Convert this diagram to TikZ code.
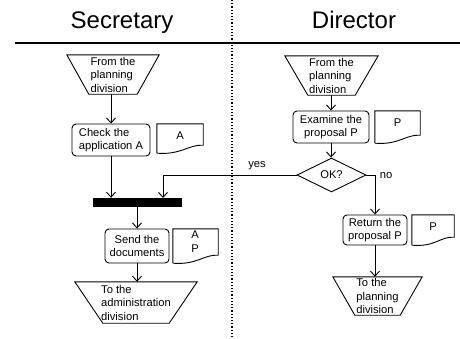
\documentclass[tikz,border=0pt]{standalone}
\usepackage{fontspec}
\setmainfont{Liberation Sans}
\usetikzlibrary{arrows.meta,shapes.geometric,calc}
\begin{document}
\begin{tikzpicture}[x=1pt,y=-1pt,
  every node/.style={font=\fontsize{11.2}{13.5}\selectfont},
  arr/.style={draw,line width=0.9pt,-{Straight Barb[length=5pt,width=9pt,line width=0.9pt]}},
  conn/.style={draw,line width=0.9pt},
  procbox/.style={draw,line width=0.9pt,rounded corners=4pt,inner sep=0pt,align=center},
  trapbox/.style={inner sep=0pt,align=left},
  docbox/.style={inner sep=0pt,align=center},
  header/.style={font=\fontsize{24}{28}\selectfont,anchor=base},
  lbl/.style={font=\fontsize{11.2}{13.5}\selectfont,inner sep=1pt}
]
\useasboundingbox (0,0) rectangle (460,338);
\fill[white] (0,0) rectangle (460,338);

% headers and lanes
\node[header] (hsec) at (122,28) {Secretary};
\node[header] (hdir) at (354,28) {Director};
\draw[line width=1.6pt] (15,43) -- (460,43);
\draw[line width=1.2pt,dotted] (232,0) -- (232,338);

% trapezoid helper: draw after node
\newcommand{\trapdraw}[2]{%
  \draw[line width=0.9pt] (#1.north west) -- (#1.north east) -- ($(#1.south east)+(-#2,0)$) -- ($(#1.south west)+(#2,0)$) -- cycle;}
\newcommand{\docdraw}[1]{%
  \draw[line width=0.9pt] ($(#1.south west)$) -- (#1.north west) -- (#1.north east) -- ($(#1.south east)+(0,-8)$)
    .. controls ($(#1.south east)+(-14,-9)$) and ($(#1.south west)+(24,2)$) .. (#1.south west);}

% Secretary lane
\node[trapbox,minimum width=92pt,minimum height=39pt] (sfrom) at (113,74.5) {From the\\planning\\division};
\trapdraw{sfrom}{22}
\node[procbox,align=left,minimum width=78pt,minimum height=32pt] (check) at (111,140) {Check the\\application A};
\node[docbox,minimum width=46pt,minimum height=29pt] (docA) at (180,138.5) {};
\docdraw{docA}
\node[lbl] (docAt) at (180,136) {A};

\node[fill=black,minimum width=89pt,minimum height=9pt,inner sep=0pt] (bar) at (137.5,202.5) {};
\coordinate (barin) at (163,198);

\node[procbox,minimum width=64pt,minimum height=34pt] (send) at (137,246) {Send the\\documents};
\node[docbox,minimum width=45pt,minimum height=34pt] (docAP) at (195.5,246) {};
\docdraw{docAP}
\node[lbl,align=center] (docAPt) at (195,241.5) {A\\P};

\node[trapbox,minimum width=122pt,minimum height=41pt] (sto) at (136,302.5) {To the\\administration\\division};
\trapdraw{sto}{28}

% Director lane
\node[trapbox,minimum width=93pt,minimum height=39pt] (dfrom) at (331.5,75.5) {From the\\planning\\division};
\trapdraw{dfrom}{23}
\node[procbox,minimum width=76pt,minimum height=32pt] (exam) at (331,127) {Examine the\\proposal P};
\node[docbox,minimum width=45pt,minimum height=32pt] (docP) at (397.5,127) {};
\docdraw{docP}
\node[lbl] (docPt) at (397.5,123) {P};

\node[draw,diamond,line width=0.9pt,aspect=2,minimum width=69pt,minimum height=34pt,inner sep=0pt] (ok) at (331.5,175) {OK?};

\node[procbox,minimum width=64pt,minimum height=30pt] (ret) at (375,230) {Return the\\proposal P};
\node[docbox,minimum width=42pt,minimum height=30pt] (docP2) at (433,230) {};
\docdraw{docP2}
\node[lbl] (docP2t) at (433,227) {P};

\node[trapbox,minimum width=89pt,minimum height=38pt] (dto) at (377.5,296) {To the\\planning\\division};
\trapdraw{dto}{22}

% connectors
\path[arr] (sfrom.south -| check.north) -- (check.north);
\path[arr] (check.south) -- (check.south |- bar.north);
\path[arr] (ok.west) -| (barin);
\path[arr] (bar.south -| send.north) -- (send.north);
\path[arr] (send.south) -- (send.south |- sto.north);

\path[arr] (dfrom.south -| exam.north) -- (exam.north);
\path[arr] (exam.south) -- (exam.south |- ok.north);
\path[arr] (ok.east) -| (ret.north);
\path[arr] (ret.south) -- (ret.south |- dto.north);

\node[lbl] (yes) at (257,166) {yes};
\node[lbl] (no) at (386,176) {no};
\end{tikzpicture}
\end{document}
